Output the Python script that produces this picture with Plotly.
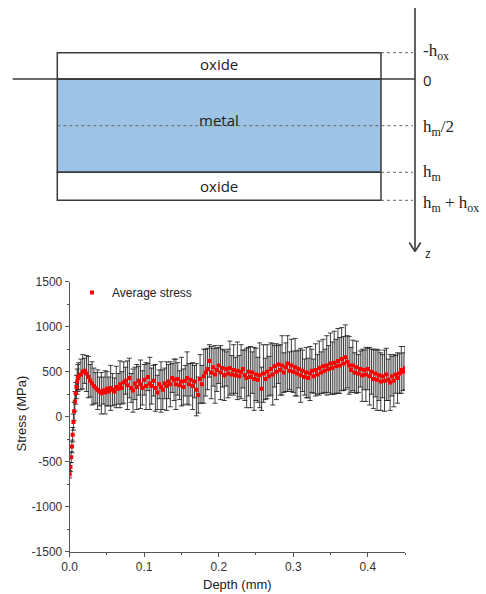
import plotly.graph_objects as go

# ---------------- data ----------------
depth_mm = [
    0.000, 0.001, 0.002, 0.003, 0.004, 0.005, 0.006, 0.007, 0.008, 0.009, 0.010, 0.011, 0.012,
    0.0150, 0.0175, 0.0200, 0.0225, 0.0250, 0.0275, 0.0300, 0.0325, 0.0350, 0.0375,
    0.0400, 0.0425, 0.0450, 0.0475, 0.0500, 0.0525, 0.0550, 0.0575, 0.0600, 0.0625,
    0.0650, 0.0675, 0.0700, 0.0725, 0.0750, 0.0775, 0.0800, 0.0825, 0.0850, 0.0875,
    0.0900, 0.0925, 0.0950, 0.0975, 0.1000, 0.1025, 0.1050, 0.1075, 0.1100, 0.1125,
    0.1150, 0.1175, 0.1200, 0.1225, 0.1250, 0.1275, 0.1300, 0.1325, 0.1350, 0.1375,
    0.1400, 0.1425, 0.1450, 0.1475, 0.1500, 0.1525, 0.1550, 0.1575, 0.1600, 0.1625,
    0.1650, 0.1675, 0.1700, 0.1725, 0.1750, 0.1775, 0.1800, 0.1825, 0.1850, 0.1875,
    0.1900, 0.1925, 0.1950, 0.1975, 0.2000, 0.2025, 0.2050, 0.2075, 0.2100, 0.2125,
    0.2150, 0.2175, 0.2200, 0.2225, 0.2250, 0.2275, 0.2300, 0.2325, 0.2350, 0.2375,
    0.2400, 0.2425, 0.2450, 0.2475, 0.2500, 0.2525, 0.2550, 0.2575, 0.2600, 0.2625,
    0.2650, 0.2675, 0.2700, 0.2725, 0.2750, 0.2775, 0.2800, 0.2825, 0.2850, 0.2875,
    0.2900, 0.2925, 0.2950, 0.2975, 0.3000, 0.3025, 0.3050, 0.3075, 0.3100, 0.3125,
    0.3150, 0.3175, 0.3200, 0.3225, 0.3250, 0.3275, 0.3300, 0.3325, 0.3350, 0.3375,
    0.3400, 0.3425, 0.3450, 0.3475, 0.3500, 0.3525, 0.3550, 0.3575, 0.3600, 0.3625,
    0.3650, 0.3675, 0.3700, 0.3725, 0.3750, 0.3775, 0.3800, 0.3825, 0.3850, 0.3875,
    0.3900, 0.3925, 0.3950, 0.3975, 0.4000, 0.4025, 0.4050, 0.4075, 0.4100, 0.4125,
    0.4150, 0.4175, 0.4200, 0.4225, 0.4250, 0.4275, 0.4300, 0.4325, 0.4350, 0.4375,
    0.4400, 0.4425, 0.4450, 0.4475, 0.4500,
]

avg_stress_mpa = [
    -640, -560, -450, -330, -200, -60, 60, 170, 260, 330, 390, 430, 450,
    470, 500, 510, 480, 440, 400, 370, 340, 320, 300,
    280, 260, 290, 270, 310, 280, 320, 300, 280, 330,
    310, 360, 320, 380, 400, 350, 430, 320, 290, 370,
    330, 400, 360, 320, 410, 340, 440, 370, 340, 400,
    320, 270, 360, 330, 300, 370, 340, 390, 360, 430,
    410, 360, 420, 350, 390, 330, 400, 430, 360, 410,
    340, 390, 300, 240, 420, 360, 450, 490, 530, 620,
    490, 550, 470, 520, 570, 490, 540, 460, 530, 480,
    540, 470, 520, 460, 510, 450, 500, 530, 460, 430,
    500, 440, 490, 420, 470, 410, 460, 310, 480, 420,
    500, 450, 530, 470, 560, 500, 580, 520, 570, 490,
    550, 590, 510, 570, 500, 550, 480, 530, 460, 510,
    440, 490, 430, 480, 510, 450, 520, 470, 540, 490,
    560, 510, 570, 530, 590, 540, 600, 560, 620, 570,
    640, 590, 660, 610, 570, 520, 570, 490, 550, 480,
    530, 460, 520, 470, 530, 450, 500, 420, 480, 410,
    460, 390, 450, 400, 470, 410, 380, 450, 400, 470,
    430, 480, 520, 500, 540,
]

stress_err_mpa = [
    40, 50, 60, 70, 80, 90, 100, 110, 120, 130, 140, 150, 150,
    170, 190, 140, 200, 230, 180, 240, 200, 170, 220,
    160, 230, 150, 240, 190, 160, 250, 180, 150, 230,
    170, 260, 180, 230, 150, 270, 220, 160, 240, 180,
    250, 160, 270, 190, 170, 260, 150, 290, 200, 170,
    260, 190, 160, 280, 220, 170, 270, 190, 250, 160,
    230, 280, 180, 160, 270, 200, 170, 290, 230, 180,
    260, 180, 290, 200, 270, 210, 300, 260, 230, 180,
    290, 210, 320, 240, 200, 300, 210, 280, 190, 270,
    300, 210, 280, 200, 320, 230, 300, 210, 280, 330,
    270, 340, 230, 350, 290, 250, 360, 240, 320, 230,
    300, 220, 290, 340, 230, 310, 210, 280, 330, 220,
    270, 310, 210, 290, 230, 320, 250, 210, 300, 230,
    200, 280, 220, 300, 240, 190, 290, 220, 300, 230,
    300, 240, 330, 260, 340, 290, 350, 300, 360, 310,
    350, 300, 360, 290, 320, 250, 280, 220, 290, 210,
    200, 290, 220, 300, 230, 320, 250, 330, 260, 340,
    280, 320, 240, 340, 290, 230, 310, 220, 290, 210,
    280, 220, 260, 210, 240,
]

x_ticks = [0.0, 0.1, 0.2, 0.3, 0.4]
x_tick_labels = ["0.0", "0.1", "0.2", "0.3", "0.4"]
y_ticks = [-1500, -1000, -500, 0, 500, 1000, 1500]
y_tick_labels = ["-1500", "-1000", "-500", "0", "500", "1000", "1500"]

assert len(depth_mm) == len(avg_stress_mpa) == len(stress_err_mpa)

# ---------------- layout helpers (pixel -> paper) ----------------
W, H = 486, 594
def PX(x):
    return x / W
def PY(y):
    return 1 - y / H

LINE = "#3a3a3a"
SANS = "Arial, Liberation Sans, sans-serif"
DIAG_SANS = "Open Sans, Noto Sans, sans-serif"
SERIF = "Liberation Serif, DejaVu Serif, serif"

fig = go.Figure()
fig.add_trace(go.Scatter(
    x=depth_mm, y=avg_stress_mpa, mode="markers", name="Average stress",
    marker=dict(symbol="square", size=4, color="#ff0000", line=dict(width=0)),
    error_y=dict(type="data", array=stress_err_mpa, color="rgba(30,30,30,0.85)",
                 thickness=1, width=2.5),
))

shapes = []
# metal layer
shapes.append(dict(type="rect", xref="paper", yref="paper",
                   x0=PX(57.3), x1=PX(381), y0=PY(79), y1=PY(172.3),
                   fillcolor="#9dc3e6", line=dict(color=LINE, width=1.5), layer="below"))
# oxide layers
for (ya, yb) in [(52.7, 79), (172.3, 200.3)]:
    shapes.append(dict(type="rect", xref="paper", yref="paper",
                       x0=PX(57.3), x1=PX(381), y0=PY(ya), y1=PY(yb),
                       fillcolor="white", line=dict(color=LINE, width=1.5), layer="below"))
# horizontal line at z=0
shapes.append(dict(type="line", xref="paper", yref="paper",
                   x0=PX(12.7), x1=PX(415), y0=PY(79), y1=PY(79),
                   line=dict(color=LINE, width=1.6)))
# z axis
shapes.append(dict(type="line", xref="paper", yref="paper",
                   x0=PX(415), x1=PX(415), y0=PY(8), y1=PY(251),
                   line=dict(color=LINE, width=1.6)))
for xa in (409.3, 420.7):
    shapes.append(dict(type="line", xref="paper", yref="paper",
                       x0=PX(xa), x1=PX(415), y0=PY(242.5), y1=PY(251.5),
                       line=dict(color=LINE, width=1.6)))
# dashed guides
for (xa, yv) in [(381, 52.7), (57.3, 125.7), (381, 172.3), (381, 200.3)]:
    shapes.append(dict(type="line", xref="paper", yref="paper",
                       x0=PX(xa), x1=PX(413), y0=PY(yv), y1=PY(yv),
                       line=dict(color="#666666", width=1, dash="dot")))

annotations = []
def ann(text, x, y, size, family, xanchor="center", color="#222222"):
    annotations.append(dict(text=text, x=PX(x), y=PY(y), xref="paper", yref="paper",
                            showarrow=False, xanchor=xanchor, yanchor="middle",
                            font=dict(size=size, family=family, color=color)))

ann("oxide", 219, 64, 15, DIAG_SANS)
ann("metal", 219, 120, 15, DIAG_SANS)
ann("oxide", 219, 186, 15, DIAG_SANS)
ann("-h<sub>ox</sub>", 421, 52, 17, SERIF, "left")
ann("0", 421, 80, 15, DIAG_SANS, "left")
ann("h<sub>m</sub>/2", 421, 128, 17, SERIF, "left")
ann("h<sub>m</sub>", 421, 173, 17, SERIF, "left")
ann("h<sub>m</sub> + h<sub>ox</sub>", 421, 204, 17, SERIF, "left")
ann("z", 423, 253, 12, DIAG_SANS, "left")
# axis titles
annotations.append(dict(text="Stress (MPa)", x=PX(20.5), y=PY(414), xref="paper", yref="paper",
                        showarrow=False, textangle=-90, xanchor="center", yanchor="middle",
                        font=dict(size=13, family=SANS, color="#222222")))
annotations.append(dict(text="Depth (mm)", x=PX(237), y=PY(584), xref="paper", yref="paper",
                        showarrow=False, xanchor="center", yanchor="middle",
                        font=dict(size=13, family=SANS, color="#222222")))

axis_common = dict(showgrid=False, zeroline=False, showline=True, linecolor="#555555",
                   linewidth=1, ticks="outside", ticklen=4, tickcolor="#555555",
                   automargin=False,
                   tickfont=dict(size=12, family=SANS, color="#333333"))

fig.update_layout(
    width=W, height=H, margin=dict(l=0, r=0, t=0, b=0, pad=0, autoexpand=False),
    paper_bgcolor="white", plot_bgcolor="white",
    shapes=shapes, annotations=annotations,
    xaxis=dict(domain=[PX(69.7), PX(405)], range=[0, 0.45],
               tickvals=x_ticks, ticktext=x_tick_labels,
               minor=dict(dtick=0.05, tick0=0, ticks="outside", ticklen=2, tickcolor="#555555"),
               **axis_common),
    yaxis=dict(domain=[PY(551.7), PY(281.7)], range=[-1500, 1500],
               tickvals=y_ticks, ticktext=y_tick_labels,
               minor=dict(dtick=250, tick0=0, ticks="outside", ticklen=2, tickcolor="#555555"),
               **axis_common),
    showlegend=True,
    legend=dict(x=PX(72), y=PY(278), xanchor="left", yanchor="top",
                bgcolor="rgba(0,0,0,0)", borderwidth=0,
                font=dict(size=12, family=SANS, color="#222222")),
)

fig.write_html("out.html", config={"displayModeBar": False})
